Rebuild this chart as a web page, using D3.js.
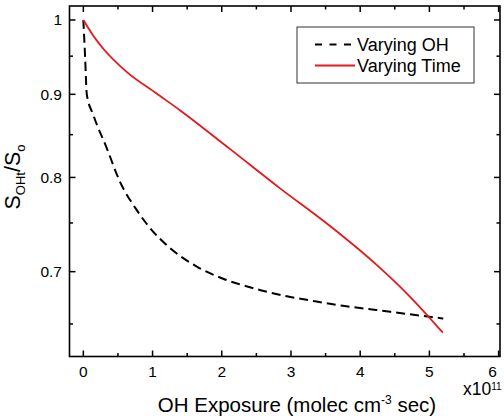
<!DOCTYPE html>
<html><head><meta charset="utf-8">
<script src="https://cdn.jsdelivr.net/npm/d3@7/dist/d3.min.js"></script>
<style>body{margin:0;background:#fff}svg{display:block;font-family:"Liberation Sans",Arial,sans-serif}</style>
</head><body><svg id="c" width="504" height="420"></svg>
<script>
const ohExposure = [0, 0.025, 0.05, 0.144, 0.338, 0.53, 0.77, 0.96, 1.25, 1.64, 2.02, 2.5, 2.94, 3.37, 3.75, 4.23, 4.71, 5.2];
const ohValues   = [1.0, 0.95, 0.90, 0.874, 0.834, 0.795, 0.764, 0.745, 0.724, 0.705, 0.693, 0.683, 0.676, 0.671, 0.667, 0.663, 0.659, 0.655];
const timeExposure = [0, 0.144, 0.289, 0.626, 1.059, 1.395, 2.117, 2.838, 3.56, 4.234, 4.714, 5.195];
const timeValues   = [1.0, 0.978, 0.960, 0.929, 0.901, 0.880, 0.833, 0.788, 0.747, 0.707, 0.676, 0.642];
const xMajor = [0, 1, 2, 3, 4, 5, 6];
const xMinor = [0.5, 1.5, 2.5, 3.5, 4.5, 5.5];
const yMajor = [1, 0.9, 0.8, 0.7];
const yMinor = [0.95, 0.85, 0.75, 0.65];
const yTickLabels = ["1", "0.9", "0.8", "0.7"];
const seriesNames = ["Varying OH", "Varying Time"];

const svg = d3.select("#c");
const L = 69.5, R = 500, T = 6, B = 356.5;
const x = d3.scaleLinear().domain([-0.2, 6.02]).range([L, R]);
const y = d3.scaleLog().domain([0.6207, 1.02]).range([B, T]);

const g = svg.append("g");
g.append("rect").attr("x", L).attr("y", T).attr("width", R - L).attr("height", B - T)
  .attr("fill", "none").attr("stroke", "#000").attr("stroke-width", 1.6);

function ticks(vals, len) {
  vals.forEach(v => {
    const px = x(v);
    g.append("line").attr("x1", px).attr("x2", px).attr("y1", B).attr("y2", B - len).attr("stroke", "#000").attr("stroke-width", 1.5);
    g.append("line").attr("x1", px).attr("x2", px).attr("y1", T).attr("y2", T + len).attr("stroke", "#000").attr("stroke-width", 1.5);
  });
}
function yticks(vals, len) {
  vals.forEach(v => {
    const py = y(v);
    g.append("line").attr("x1", L).attr("x2", L + len).attr("y1", py).attr("y2", py).attr("stroke", "#000").attr("stroke-width", 1.5);
    g.append("line").attr("x1", R).attr("x2", R - len).attr("y1", py).attr("y2", py).attr("stroke", "#000").attr("stroke-width", 1.5);
  });
}
ticks(xMajor, 6); ticks(xMinor, 3.5);
yticks(yMajor, 6); yticks(yMinor, 3.5);

xMajor.forEach(v => {
  g.append("text").attr("x", Math.min(x(v), 492.5)).attr("y", 377).attr("text-anchor", "middle")
    .attr("font-size", 15.5).text(String(v));
});
yMajor.forEach((v, i) => {
  g.append("text").attr("x", 62).attr("y", y(v) + 5.5).attr("text-anchor", "end")
    .attr("font-size", 15.5).text(yTickLabels[i]);
});

const lineGen = d3.line().x(d => x(d[0])).y(d => y(d[1])).curve(d3.curveMonotoneX);
g.append("path").datum(ohExposure.map((e, i) => [e, ohValues[i]]))
  .attr("d", lineGen).attr("fill", "none").attr("stroke", "#000").attr("stroke-width", 2)
  .attr("stroke-dasharray", "9,5");
g.append("path").datum(timeExposure.map((e, i) => [e, timeValues[i]]))
  .attr("d", lineGen).attr("fill", "none").attr("stroke", "#e8161b").attr("stroke-width", 1.8);

// legend
g.append("rect").attr("x", 297).attr("y", 27).attr("width", 177).attr("height", 56)
  .attr("fill", "#fff").attr("stroke", "#333").attr("stroke-width", 1);
g.append("line").attr("x1", 315).attr("x2", 351).attr("y1", 44.5).attr("y2", 44.5)
  .attr("stroke", "#000").attr("stroke-width", 1.8).attr("stroke-dasharray", "7,7.5");
g.append("line").attr("x1", 315).attr("x2", 355).attr("y1", 65.5).attr("y2", 65.5)
  .attr("stroke", "#e8161b").attr("stroke-width", 1.8);
g.append("text").attr("x", 357).attr("y", 51).attr("font-size", 18).text(seriesNames[0]);
g.append("text").attr("x", 357).attr("y", 71.5).attr("font-size", 18).text(seriesNames[1]);

// x title
const xt = g.append("text").attr("x", 297).attr("y", 411.5).attr("text-anchor", "middle").attr("font-size", 20.5);
xt.append("tspan").text("OH Exposure (molec cm");
xt.append("tspan").attr("font-size", 12).attr("dy", -8).text("-3");
xt.append("tspan").attr("dy", 8).text(" sec)");

const xm = g.append("text").attr("x", 463).attr("y", 395).attr("font-size", 17.5);
xm.append("tspan").text("x10");
xm.append("tspan").attr("font-size", 10).attr("dy", -5.5).text("11");

// y title
const yt = g.append("text").attr("transform", "translate(20,177) rotate(-90)")
  .attr("text-anchor", "middle").attr("font-size", 21.5);
yt.append("tspan").text("S");
yt.append("tspan").attr("font-size", 13).attr("dy", 5).text("OHt");
yt.append("tspan").attr("dy", -5).text("/S");
yt.append("tspan").attr("font-size", 13).attr("dy", 5).text("o");
</script></body></html>
